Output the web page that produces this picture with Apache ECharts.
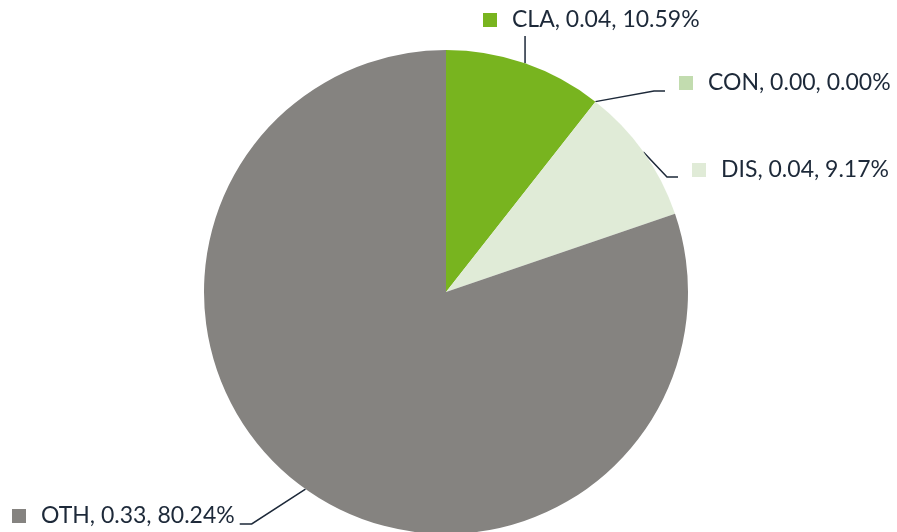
<!DOCTYPE html>
<html><head><meta charset="utf-8">
<script src="https://cdn.jsdelivr.net/npm/echarts@6/dist/echarts.min.js"></script>
<style>html,body{margin:0;padding:0;background:#fff}#c{width:897px;height:532px}</style>
</head><body><div id="c"></div>
<script>
// ---- data ----
const categories = ['CLA', 'CON', 'DIS', 'OTH'];
const values = [0.04356, 0, 0.03772, 0.33];
const colors = ['#78b41f', '#c2dcaf', '#e0ebd7', '#858380'];

// ---- label placement (layout only) ----
const center = [446, 292], radius = 242;
const labelPlace = [
  { x: 483, y: 20, kind: 'up' },
  { x: 679, y: 83, kind: 'left', dy: 8 },
  { x: 692, y: 170, kind: 'left', dy: 7 },
  { x: 12, y: 516, kind: 'right', dy: 8, anchorAngle: 215.5 }
];
const textColor = '#1d2939';

const rich = { t: { color: textColor, fontFamily: 'Lato', fontSize: 23, padding: [0, 0, 0, 15], lineHeight: 28 } };
colors.forEach((c, i) => { rich['m' + i] = { width: 14, height: 14, backgroundColor: c }; });

const chart = echarts.init(document.getElementById('c'), null, { renderer: 'canvas' });
chart.setOption({
  backgroundColor: '#fff',
  animation: false,
  series: [{
    type: 'pie',
    center: center,
    radius: radius,
    startAngle: 90,
    clockwise: true,
    avoidLabelOverlap: false,
    emphasis: { disabled: true },
    data: categories.map((n, i) => ({ name: n, value: values[i], itemStyle: { color: colors[i] } })),
    label: {
      show: true,
      position: 'outside',
      formatter: p => `{m${p.dataIndex}|}{t|${p.name}, ${p.value.toFixed(2)}, ${p.percent.toFixed(2)}%}`,
      rich: rich
    },
    labelLine: { show: true, lineStyle: { color: textColor, width: 1.5 } },
    labelLayout: function (params) {
      const lp = labelPlace[params.dataIndex];
      const w = params.labelRect.width;
      let p0 = params.labelLinePoints ? params.labelLinePoints[0] : center;
      if (lp.anchorAngle != null) {
        const a = lp.anchorAngle * Math.PI / 180;
        p0 = [center[0] + radius * Math.sin(a), center[1] - radius * Math.cos(a)];
      }
      let pts;
      if (lp.kind === 'up') {
        pts = [p0, [p0[0], lp.y + 16]];
      } else if (lp.kind === 'left') {
        pts = [p0, [lp.x - 25, lp.y + lp.dy], [lp.x - 14, lp.y + lp.dy]];
      } else {
        pts = [p0, [lp.x + w + 17, lp.y + lp.dy], [lp.x + w + 5, lp.y + lp.dy]];
      }
      return { x: lp.x, y: lp.y, align: 'left', verticalAlign: 'middle', labelLinePoints: pts };
    }
  }]
});
</script></body></html>
